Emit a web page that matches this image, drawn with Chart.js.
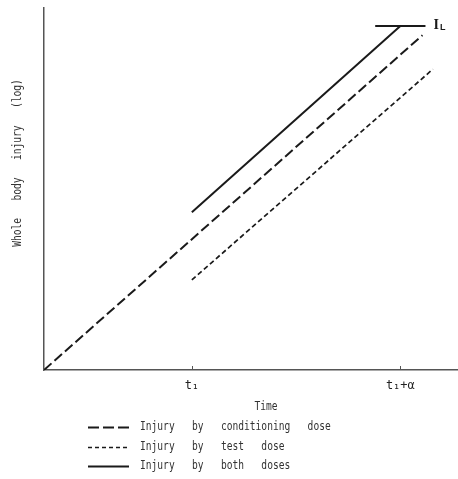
<!DOCTYPE html>
<html>
<head>
<meta charset="utf-8">
<script src="https://cdn.jsdelivr.net/npm/chart.js@4/dist/chart.umd.min.js"></script>
<style>
html,body{margin:0;padding:0;background:#fff;}
canvas{display:block;}
</style>
</head>
<body>
<canvas id="c" width="458" height="479"></canvas>
<script>
// ---- data (time in units of t1, injury on a log scale 0..100) ----
const tickValues = [1, 2.41];
const tickLabels = ['t\u2081', 't\u2081+\u03b1'];

const conditioningTime = [0, 2.56];
const conditioningInjury = [0, 92.5];

const testTime = [1, 2.63];
const testInjury = [24.9, 83.1];

const bothTime = [1, 2.41];
const bothInjury = [43.6, 95.0];

const limitTime = [2.24, 2.58];
const limitInjury = [95.0, 95.0];

const seriesLabels = [
  'Injury   by   conditioning   dose',
  'Injury   by   test   dose',
  'Injury   by   both   doses'
];
const xTitle = 'Time';
const yTitle = 'Whole   body   injury   (log)';
const limitLabel = ['I', 'L'];

const pts = (xs, ys) => xs.map((v, i) => ({x: v, y: ys[i]}));

const INK = '#1a1a1a';
const AXIS = '#555';
const MONO = '"DejaVu Sans Mono", monospace';

function squeezeText(ctx, str, x, y, align) {
  ctx.save();
  ctx.translate(x, y);
  ctx.scale(0.8, 1);
  ctx.textAlign = align || 'left';
  ctx.fillText(str, 0, 0);
  ctx.restore();
}

const overlay = {
  id: 'overlay',
  afterDraw(chart) {
    const {ctx} = chart;
    const xs = chart.scales.x, ys = chart.scales.y;
    ctx.save();
    // small tick marks pointing into the plot
    ctx.strokeStyle = AXIS;
    ctx.lineWidth = 1;
    tickValues.forEach(v => {
      const px = Math.round(xs.getPixelForValue(v)) + 0.5;
      ctx.beginPath();
      ctx.moveTo(px, ys.bottom);
      ctx.lineTo(px, ys.bottom - 4);
      ctx.stroke();
    });
    // I_L label at the end of the limit line
    const lx = xs.getPixelForValue(limitTime[1]) + 8;
    const ly = ys.getPixelForValue(limitInjury[1]) + 3;
    ctx.fillStyle = INK;
    ctx.textBaseline = 'alphabetic';
    ctx.font = 'bold 14px "Liberation Serif", serif';
    ctx.fillText(limitLabel[0], lx, ly);
    const iw = ctx.measureText(limitLabel[0]).width;
    ctx.font = 'bold 9px "Liberation Sans", sans-serif';
    ctx.fillText(limitLabel[1], lx + iw + 1, ly + 1);

    // y axis title (rotated)
    ctx.fillStyle = '#333';
    ctx.font = '12px ' + MONO;
    ctx.textBaseline = 'middle';
    ctx.save();
    ctx.translate(18, 163);
    ctx.rotate(-Math.PI / 2);
    squeezeText(ctx, yTitle, 0, 0, 'center');
    ctx.restore();

    // x axis title
    squeezeText(ctx, xTitle, (xs.left + xs.right) / 2 + 15, 407, 'center');

    // legend rows
    const rowsY = [427, 447, 466];
    chart.data.datasets.slice(0, 3).forEach((ds, i) => {
      const yy = rowsY[i] + 0.5;
      ctx.save();
      ctx.strokeStyle = ds.borderColor;
      ctx.lineWidth = ds.borderWidth;
      ctx.setLineDash(ds.legendDash || []);
      ctx.beginPath();
      ctx.moveTo(88, yy);
      ctx.lineTo(129, yy);
      ctx.stroke();
      ctx.restore();
      ctx.fillStyle = '#333';
      squeezeText(ctx, ds.label, 140, rowsY[i], 'left');
    });
    ctx.restore();
  }
};

new Chart(document.getElementById('c'), {
  type: 'line',
  data: {
    datasets: [
      {label: seriesLabels[0], data: pts(conditioningTime, conditioningInjury),
       borderColor: INK, borderWidth: 2, borderDash: [10, 4], legendDash: [11, 4]},
      {label: seriesLabels[1], data: pts(testTime, testInjury),
       borderColor: INK, borderWidth: 1.7, borderDash: [5, 3], legendDash: [4, 3]},
      {label: seriesLabels[2], data: pts(bothTime, bothInjury),
       borderColor: INK, borderWidth: 2, borderDash: [], legendDash: []},
      {label: 'limit', data: pts(limitTime, limitInjury),
       borderColor: INK, borderWidth: 2, borderDash: []}
    ]
  },
  options: {
    responsive: false,
    animation: false,
    layout: {padding: {left: 0, right: 0, top: 8, bottom: 0}},
    elements: {point: {radius: 0}, line: {tension: 0}},
    plugins: {legend: {display: false}, tooltip: {enabled: false}},
    scales: {
      x: {
        type: 'linear', min: 0, max: 2.8,
        grid: {display: false},
        border: {display: true, color: AXIS, width: 1.5},
        afterBuildTicks: s => { s.ticks = tickValues.map(v => ({value: v})); },
        afterFit: s => { s.height = 109; },
        ticks: {
          autoSkip: false, maxRotation: 0, padding: 1,
          color: '#222', font: {family: MONO, size: 12},
          callback: v => { const i = tickValues.indexOf(v); return i >= 0 ? tickLabels[i] : ''; }
        }
      },
      y: {
        type: 'linear', min: 0, max: 100,
        grid: {display: false},
        border: {display: true, color: AXIS, width: 1.5},
        ticks: {display: false},
        afterFit: s => { s.width = 44; }
      }
    }
  },
  plugins: [overlay]
});
</script>
</body>
</html>
